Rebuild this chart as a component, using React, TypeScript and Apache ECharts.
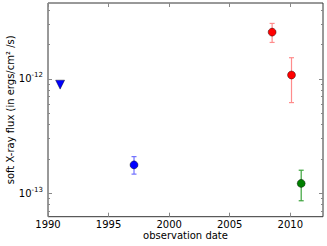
import React, { useEffect, useRef } from "react";
import * as echarts from "echarts";

// ---- data ----
const limitYears = [1991.0];
const limitFlux = [8.9e-13];

const blueYears = [1997.1];
const blueFlux = [1.77e-13];
const blueLow = [1.47e-13];
const blueHigh = [2.09e-13];

const redYears = [2008.5, 2010.1];
const redFlux = [2.56e-12, 1.08e-12];
const redLow = [2.08e-12, 6.2e-13];
const redHigh = [3.05e-12, 1.53e-12];

const greenYears = [2010.9];
const greenFlux = [1.22e-13];
const greenLow = [8.6e-14];
const greenHigh = [1.59e-13];

const xTicks = [1990, 1995, 2000, 2005, 2010];
const yMajor = [1e-13, 1e-12];
const yMinor = [7e-14, 8e-14, 9e-14, 2e-13, 3e-13, 4e-13, 5e-13, 6e-13, 7e-13, 8e-13, 9e-13, 2e-12, 3e-12, 4e-12];

const X_MIN = 1990;
const X_MAX = 2012.7;
const Y_MIN = 6.24e-14;
const Y_MAX = 4.6e-12;

const FONT = "DejaVu Sans";

function errSeries(years: number[], lo: number[], hi: number[], color: string) {
  return {
    type: "custom",
    xAxisIndex: 0,
    yAxisIndex: 0,
    z: 2,
    encode: { x: 0, y: [1, 2] },
    data: years.map((y, i) => [y, lo[i], hi[i]]),
    renderItem: (params: any, api: any) => {
      const x = api.value(0);
      const p1 = api.coord([x, api.value(1)]);
      const p2 = api.coord([x, api.value(2)]);
      const cap = 2.5;
      const style = { stroke: color, lineWidth: 1.2 };
      return {
        type: "group",
        children: [
          { type: "line", shape: { x1: p1[0], y1: p1[1], x2: p2[0], y2: p2[1] }, style },
          { type: "line", shape: { x1: p1[0] - cap, y1: p1[1], x2: p1[0] + cap, y2: p1[1] }, style },
          { type: "line", shape: { x1: p2[0] - cap, y1: p2[1], x2: p2[0] + cap, y2: p2[1] }, style },
        ],
      };
    },
  };
}

function pointSeries(years: number[], vals: number[], color: string, symbol = "circle", rotate = 0, size = 8) {
  return {
    type: "scatter",
    xAxisIndex: 0,
    yAxisIndex: 0,
    z: 5,
    symbol,
    symbolRotate: rotate,
    symbolSize: size,
    itemStyle: { color, borderColor: "#000", borderWidth: 0.4, opacity: 1 },
    data: years.map((y, i) => [y, vals[i]]),
  };
}

const tickStyle = { color: "#888", width: 1 };

function yAxisDef(position: "left" | "right", major: boolean) {
  return {
    type: "log",
    logBase: 10,
    min: Y_MIN,
    max: Y_MAX,
    position,
    offset: 0,
    axisLine: { show: false },
    splitLine: { show: false },
    axisTick: {
      show: true,
      inside: true,
      length: major ? 4 : 2,
      lineStyle: tickStyle,
      customValues: major ? yMajor : yMinor,
    },
    axisLabel:
      major && position === "left"
        ? {
            show: true,
            customValues: yMajor,
            margin: 5,
            fontFamily: FONT,
            fontSize: 10,
            color: "#000",
            formatter: (v: number) => "10{sup|" + Math.round(Math.log10(v)) + "}",
            rich: {
              sup: { fontSize: 7, fontFamily: FONT, color: "#000", padding: [0, 0, 7, 0] },
            },
          }
        : { show: false },
    ...(major && position === "left"
      ? {
          name: "soft X-ray flux (in ergs/cm² /s)",
          nameLocation: "middle",
          nameGap: 33,
          nameMoveOverlap: false,
          nameTextStyle: { fontFamily: FONT, fontSize: 10, color: "#000" },
        }
      : {}),
  };
}

function xAxisDef(position: "bottom" | "top") {
  return {
    type: "value",
    min: X_MIN,
    max: X_MAX,
    position,
    axisLine: { show: false },
    splitLine: { show: false },
    axisTick: { show: true, inside: true, length: 4, lineStyle: tickStyle, customValues: xTicks },
    axisLabel:
      position === "bottom"
        ? {
            show: true,
            customValues: xTicks,
            margin: 3,
            fontFamily: FONT,
            fontSize: 10,
            color: "#000",
            formatter: (v: number) => String(Math.round(v)),
          }
        : { show: false },
    ...(position === "bottom"
      ? {
          name: "observation date",
          nameLocation: "middle",
          nameGap: 13.5,
          nameMoveOverlap: false,
          nameTextStyle: { fontFamily: FONT, fontSize: 10, color: "#000", verticalAlign: "top" },
        }
      : {}),
  };
}

export default function App() {
  const ref = useRef<HTMLDivElement>(null);
  useEffect(() => {
    if (!ref.current) return;
    const chart = echarts.init(ref.current, null, { renderer: "svg" });
    chart.setOption({
      animation: false,
      backgroundColor: "#fff",
      grid: {
        left: 48,
        right: 4,
        top: 3,
        bottom: 29.3,
        show: true,
        borderColor: "#333",
        borderWidth: 1,
        backgroundColor: "transparent",
        outerBoundsMode: "none",
        containLabel: false,
      },
      xAxis: [xAxisDef("bottom"), xAxisDef("top")],
      yAxis: [yAxisDef("left", true), yAxisDef("left", false), yAxisDef("right", true), yAxisDef("right", false)],
      series: [
        errSeries(blueYears, blueLow, blueHigh, "#7070ff"),
        errSeries(redYears, redLow, redHigh, "#ff8c8c"),
        errSeries(greenYears, greenLow, greenHigh, "#3ba33b"),
        pointSeries(limitYears, limitFlux, "#0000ff", "triangle", 180, 9),
        pointSeries(blueYears, blueFlux, "#0000ff"),
        pointSeries(redYears, redFlux, "#ff0000"),
        pointSeries(greenYears, greenFlux, "#008000"),
      ],
    });
    return () => chart.dispose();
  }, []);
  return (
    <div
      ref={ref}
      style={{ position: "fixed", left: 0, top: 0, width: 327, height: 246 }}
    />
  );
}
